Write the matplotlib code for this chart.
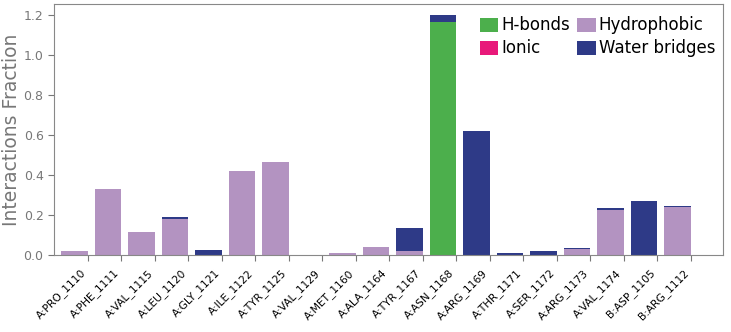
import matplotlib.pyplot as plt
import matplotlib.transforms as mtrans
import numpy as np

residues = ["A:PRO_1110", "A:PHE_1111", "A:VAL_1115", "A:LEU_1120", "A:GLY_1121",
            "A:ILE_1122", "A:TYR_1125", "A:VAL_1129", "A:MET_1160", "A:ALA_1164",
            "A:TYR_1167", "A:ASN_1168", "A:ARG_1169", "A:THR_1171", "A:SER_1172",
            "A:ARG_1173", "A:VAL_1174", "B:ASP_1105", "B:ARG_1112"]

hbonds = [0, 0, 0, 0, 0, 0, 0, 0, 0, 0,
          0, 1.165, 0, 0, 0, 0, 0, 0, 0]
hydrophobic = [0.022, 0.33, 0.117, 0.18, 0, 0.42, 0.463, 0, 0.012, 0.04,
               0.02, 0, 0, 0, 0, 0.03, 0.227, 0, 0.238]
ionic = [0] * 19
water = [0, 0, 0, 0.008, 0.026, 0, 0, 0, 0, 0,
         0.113, 0.033, 0.62, 0.012, 0.02, 0.006, 0.006, 0.268, 0.009]

series = [("H-bonds", hbonds, "#4caf4c"),
          ("Hydrophobic", hydrophobic, "#b393c1"),
          ("Ionic", ionic, "#e8197a"),
          ("Water bridges", water, "#2e3a87")]

fig = plt.figure(figsize=(7.31, 3.32), dpi=100)
ax = fig.add_axes([54 / 731, 1 - 255 / 332, (723 - 54) / 731, (255 - 4) / 332])

x = np.arange(len(residues))
bottom = np.zeros(len(residues))
handles = []
for name, vals, col in series:
    vals = np.array(vals)
    b = ax.bar(x, vals, width=0.8, bottom=bottom, align="edge", color=col,
               edgecolor="none", label=name)
    handles.append(b)
    bottom += vals

ax.set_xlim(-0.21, 19.76)
ax.set_ylim(0, 1.255)
ax.set_xticks(x + 0.8)
ax.set_xticklabels(residues, rotation=45, ha="right", fontsize=7.7)
# nudge the rotated labels a little to the right, like the original
shift = mtrans.ScaledTranslation(4 / 100, 0, fig.dpi_scale_trans)
for lab in ax.get_xticklabels():
    lab.set_transform(lab.get_transform() + shift)
ax.set_yticks([0, 0.2, 0.4, 0.6, 0.8, 1.0, 1.2])
ax.set_yticklabels(["0.0", "0.2", "0.4", "0.6", "0.8", "1.0", "1.2"])
ax.tick_params(axis="y", colors="#777777", labelsize=9, length=4)
ax.tick_params(axis="x", color="#777777", length=4, pad=5)
for s in ax.spines.values():
    s.set_color("#888888")
ax.set_ylabel("Interactions Fraction", fontsize=13.5, color="#777777")
ax.yaxis.set_label_coords(-0.049, 0.5)

leg = ax.legend(handles=[handles[0], handles[2], handles[1], handles[3]],
                labels=["H-bonds", "Ionic", "Hydrophobic", "Water bridges"],
                ncol=2, frameon=False, loc="upper right", fontsize=12,
                handlelength=1.1, handleheight=0.9, handletextpad=0.2,
                columnspacing=0.4, labelspacing=0.3,
                bbox_to_anchor=(1.006, 0.997), borderaxespad=0.3)

fig.savefig("out.png", dpi=100)
